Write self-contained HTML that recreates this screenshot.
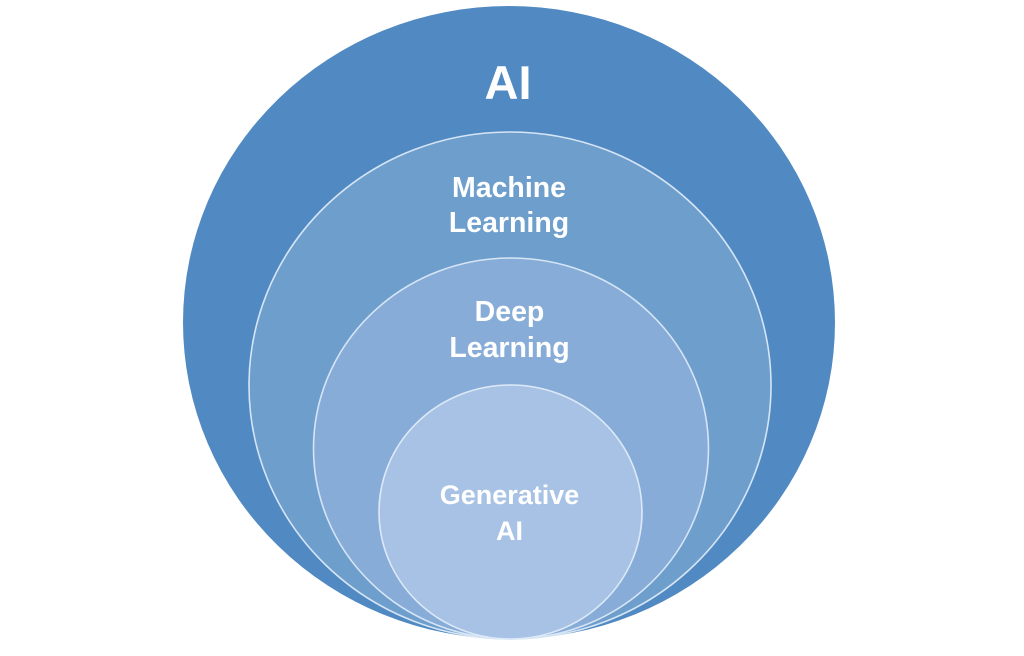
<!DOCTYPE html>
<html>
<head>
<meta charset="utf-8">
<style>
  html, body { margin: 0; padding: 0; background: #ffffff; }
  body { width: 1024px; height: 656px; overflow: hidden; }
  svg { display: block; }
  text { font-family: "Liberation Sans", "DejaVu Sans", sans-serif; font-weight: bold; fill: #ffffff; text-anchor: middle; }
</style>
</head>
<body>
<svg width="1024" height="656" viewBox="0 0 1024 656" xmlns="http://www.w3.org/2000/svg">
  <rect width="1024" height="656" fill="#ffffff"/>
  <!-- AI outer -->
  <ellipse cx="509" cy="322.5" rx="326" ry="316.5" fill="#518ac2"/>
  <!-- Machine Learning -->
  <ellipse cx="510" cy="385.5" rx="261" ry="253.5" fill="#6d9ecc" stroke="#d6e5f5" stroke-width="1.6"/>
  <!-- Deep Learning -->
  <ellipse cx="511" cy="448.5" rx="197.5" ry="190.5" fill="#88acd8" stroke="#d6e5f5" stroke-width="1.6"/>
  <!-- Generative AI -->
  <ellipse cx="510.5" cy="512" rx="131.5" ry="127" fill="#a7c2e5" stroke="#dce9f7" stroke-width="1.6"/>

  <text x="508" y="99" font-size="47">AI</text>

  <text x="509" y="197" font-size="28.5">Machine</text>
  <text x="509" y="232" font-size="28.5">Learning</text>

  <text x="509.5" y="321" font-size="28.5">Deep</text>
  <text x="509.5" y="357" font-size="28.5">Learning</text>

  <text x="509.5" y="504" font-size="27" fill="#f3f7fc">Generative</text>
  <text x="509.5" y="540" font-size="27" fill="#f3f7fc">AI</text>
</svg>
</body>
</html>
